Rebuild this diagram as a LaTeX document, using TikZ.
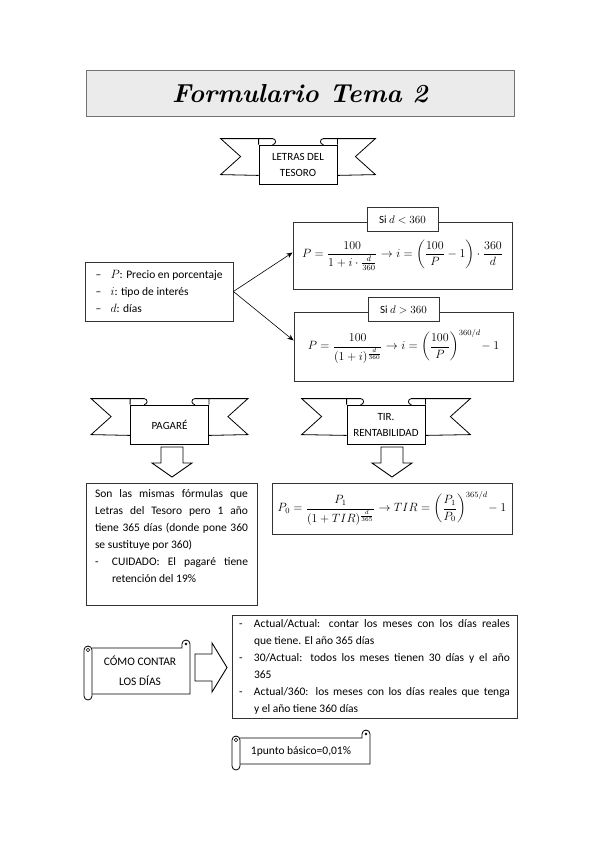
\documentclass[tikz,border=0pt]{standalone}
\usepackage{amsmath}
\usepackage{fontspec}
\setmainfont{Carlito}
\newfontfamily\titlefont{Latin Modern Roman}
\usetikzlibrary{arrows.meta,positioning,calc}
\tikzset{
  boxln/.style={draw=black!80, line width=0.8pt},
  titlebox/.style={draw=black!55, line width=1pt, fill=black!8,
    minimum width=428pt, minimum height=46pt},
  infobox/.style={boxln, fill=white, inner xsep=9pt, inner ysep=6pt,
    font=\fontsize{11.5}{17}\selectfont},
  formbox/.style={boxln, fill=white, font=\fontsize{12}{14}\selectfont},
  tabbox/.style={boxln, fill=white, minimum width=71pt, minimum height=24pt,
    inner sep=2pt, font=\fontsize{11}{13}\selectfont},
  ribbonbox/.style={draw, line width=0.8pt, fill=white, minimum width=78pt,
    minimum height=39pt, align=center, inner sep=1pt,
    font=\fontsize{11}{16}\selectfont},
  ribbonln/.style={line width=0.8pt, line join=miter},
  scrollln/.style={line width=0.8pt, fill=white},
  scrolltext/.style={align=center, font=\fontsize{11.5}{20}\selectfont},
  blockln/.style={line width=0.9pt, fill=white, line join=miter},
  linkarrow/.style={-{Stealth[length=2.2mm,width=1.8mm]}, line width=0.6pt},
}
% tails and folds of a ribbon round node #1, tails #2 long
\newcommand{\ribbontails}[2]{%
  \draw[ribbonln] ($(#1.north west)+(0pt,6pt)$) -- ++(-#2,0pt) -- ++(20pt,-18pt)
    -- ++(-20pt,-18pt) -- ($(#1.south west)+(0pt,9pt)$);
  \draw[ribbonln] ($(#1.north east)+(0pt,6pt)$) -- ++(#2,0pt) -- ++(-20pt,-18pt)
    -- ++(20pt,-18pt) -- ($(#1.south east)+(0pt,9pt)$);
  \draw[ribbonln] (#1.north west) -- ++(0pt,6pt) -- ++(14pt,0pt)
    arc[start angle=90, end angle=-90, radius=3pt];
  \draw[ribbonln] (#1.north east) -- ++(0pt,6pt) -- ++(-14pt,0pt)
    arc[start angle=90, end angle=270, radius=3pt];
}
% block arrow pointing down, centre x #1, top #2
\newcommand{\blockdown}[2]{%
  \draw[blockln] ({#1-11},#2) -- ({#1+11},#2) -- ({#1+11},{#2+16})
    -- ({#1+20},{#2+16}) -- (#1,{#2+30}) -- ({#1-20},{#2+16})
    -- ({#1-11},{#2+16}) -- cycle;
}
% scroll from (#1,#2) to (#3,#4)
\newcommand{\scrollshape}[4]{%
  \draw[scrollln] ({#1+8},{#2+8}) -- ({#3-8},{#2+8}) -- ({#3-8},{#2+4})
    arc[start angle=180, end angle=0, radius=4pt] -- (#3,{#4-6})
    -- ({#1+8},{#4-6});
  \fill ({#3-4},{#2+4}) circle (1.3pt);
  \draw[scrollln, rounded corners=4pt] (#1,{#2+6}) rectangle ({#1+8},#4);
  \draw[line width=0.6pt] ({#1+4},{#2+10}) circle (1.8pt);
}
\newcommand{\dashitem}{\noindent\hangindent=15pt\hangafter=1\makebox[15pt][l]{-}}

\begin{document}
\begin{tikzpicture}[x=1pt, y=-1pt]
  \useasboundingbox (0,0) rectangle (599,848);
  \node[titlebox] (title) at (300,94)
    {\titlefont\bfseries\itshape\fontsize{26}{28}\selectfont Formulario Tema 2};

  % letras del tesoro
  \node[ribbonbox] (letras) at (298,164.5) {LETRAS DEL\\TESORO};
  \ribbontails{letras}{38pt}
  \node[infobox, minimum width=148pt, minimum height=59pt, align=left]
    (vars) at (159,291.5)
    {\makebox[15pt][l]{–}$P$: Precio en porcentaje\\
     \makebox[15pt][l]{–}$i$: tipo de interés\\
     \makebox[15pt][l]{–}$d$: días};
  \node[formbox, minimum width=219pt, minimum height=67pt] (letmenor)
    at (402.5,255.5)
    {$\displaystyle P=\frac{100}{1+i\cdot\frac{d}{360}}\rightarrow
      i=\left(\frac{100}{P}-1\right)\cdot\frac{360}{d}$};
  \node[tabbox] (tabmenor) at ([yshift=2pt]letmenor.north) {Si $d<360$};
  \node[formbox, minimum width=219pt, minimum height=69pt] (letmayor)
    at (403.5,346.5)
    {$\displaystyle P=\frac{100}{(1+i)^{\frac{d}{360}}}\rightarrow
      i=\left(\frac{100}{P}\right)^{360/d}\!-1$};
  \node[tabbox] (tabmayor) at ([yshift=2pt]letmayor.north) {Si $d>360$};
  \draw[linkarrow] (vars.east) -- ([yshift=3pt]letmenor.west);
  \draw[linkarrow] (vars.east) -- ([yshift=6pt]letmayor.west);

  % pagare y TIR
  \node[ribbonbox] (pagare) at (169.5,424.5) {PAGARÉ};
  \ribbontails{pagare}{39pt}
  \node[ribbonbox] (tir) at (386,424.5) {TIR.\\RENTABILIDAD};
  \ribbontails{tir}{45pt}
  \blockdown{172}{447}
  \blockdown{392}{447}
  \node[infobox, text width=153pt, align=justify, anchor=north] (pagtext)
    at (171.5,483)
    {Son las mismas fórmulas que\linebreak Letras del Tesoro pero 1 año\linebreak
     tiene 365 días (donde pone 360\linebreak se sustituye por 360)\par
     \noindent\hangindent=17pt\hangafter=1\makebox[17pt][l]{-}CUIDADO: El pagaré
     tiene\linebreak retención del 19\%\par\noindent\rule{0pt}{4pt}};
  \node[formbox, minimum width=240pt, minimum height=51pt] (tirform)
    at (392,508.5)
    {$\displaystyle P_0=\frac{P_1}{(1+TIR)^{\frac{d}{365}}}\rightarrow
      TIR=\left(\frac{P_1}{P_0}\right)^{365/d}\!-1$};

  % conteo de dias
  \scrollshape{84}{640}{190}{700}
  \node[scrolltext] (contar) at (140,671) {CÓMO CONTAR\\LOS DÍAS};
  \draw[blockln] (195,654) -- (212,654) -- (212,643) -- (227,667.5)
    -- (212,692) -- (212,681) -- (195,681) -- cycle;
  \node[infobox, text width=271pt, inner xsep=7pt, inner ysep=4pt,
    align=justify, anchor=north] (conteo) at (374.5,615)
    {\dashitem Actual/Actual: contar los meses con los días reales\linebreak
     que tiene. El año 365 días\par
     \dashitem 30/Actual: todos los meses tienen 30 días y el año\linebreak
     365\par
     \dashitem Actual/360: los meses con los días reales que tenga\linebreak
     y el año tiene 360 días\par};
  \scrollshape{232}{730}{370}{770}
  \node[scrolltext] (punto) at (301,751) {1punto básico=0,01\%};
\end{tikzpicture}
\end{document}
